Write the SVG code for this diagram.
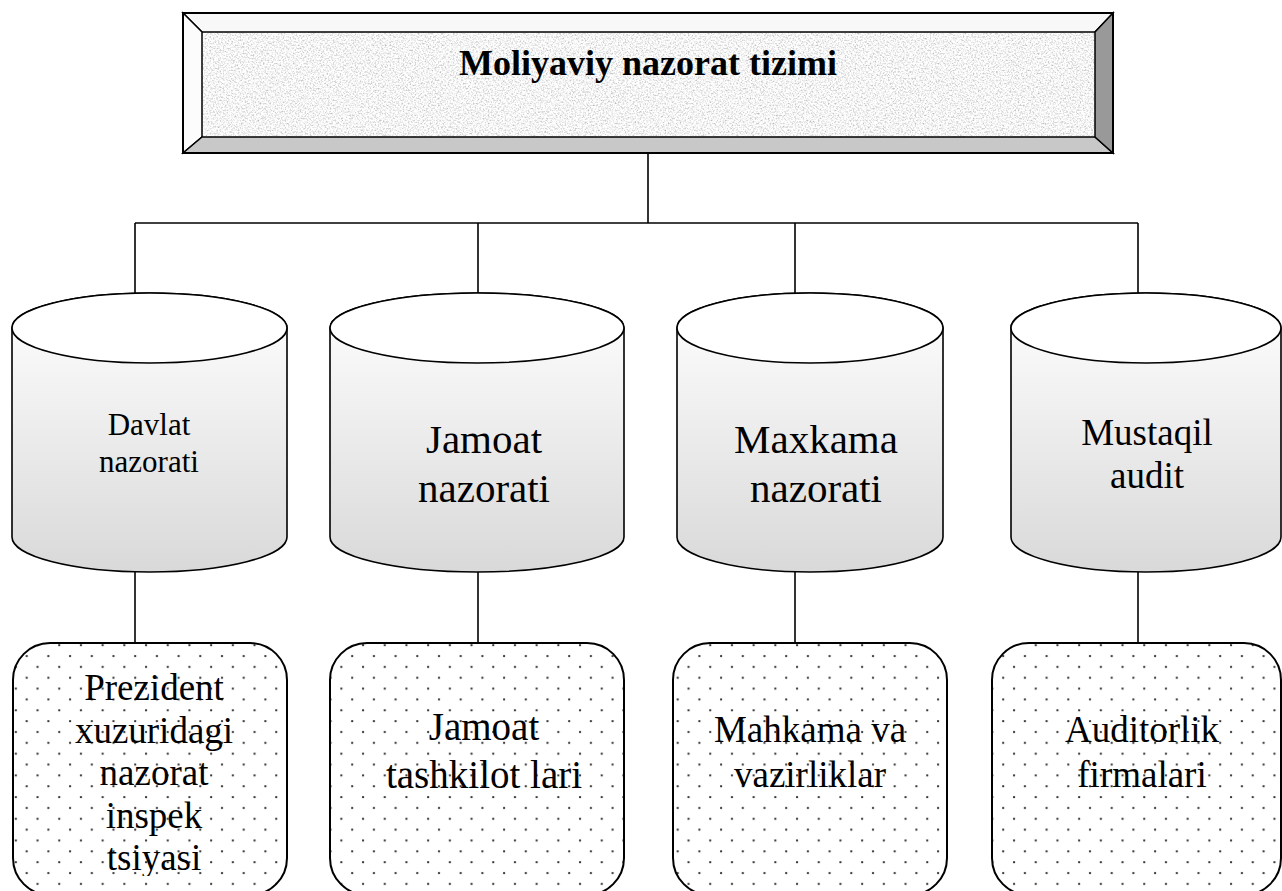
<svg xmlns="http://www.w3.org/2000/svg" width="1282" height="891" viewBox="0 0 1282 891">
<style>
.ol{stroke:#000;stroke-width:2;fill:none}
.cyl{stroke:#000;stroke-width:1.6;fill:url(#cylGrad)}
.cyltop{stroke:#000;stroke-width:1.6;fill:#fff}
.box{stroke:#000;stroke-width:2;fill:url(#dots)}
.conn line{stroke:#000;stroke-width:1.6}
text{font-family:"Liberation Serif","Times New Roman",serif;fill:#000;text-anchor:middle}
.title{font-weight:bold;font-size:36px}
</style>
<defs>
<linearGradient id="cylGrad" x1="0" y1="0" x2="0" y2="1">
<stop offset="0" stop-color="#ffffff"/>
<stop offset="1" stop-color="#d9d9d9"/>
</linearGradient>
<pattern id="dots" patternUnits="userSpaceOnUse" width="21.7" height="21.7">
<rect width="21.7" height="21.7" fill="#fff"/>
<circle cx="5" cy="5" r="1.15" fill="#333"/>
<circle cx="15.85" cy="15.85" r="1.15" fill="#333"/>
</pattern>
<filter id="granite" x="0" y="0" width="100%" height="100%">
<feTurbulence type="fractalNoise" baseFrequency="0.6" numOctaves="3" seed="7" result="n"/>
<feColorMatrix in="n" type="matrix" values="1.1 0 0 0 0.36  1.1 0 0 0 0.36  1.1 0 0 0 0.36  0 0 0 0 1" result="g"/>
<feComposite in="g" in2="SourceGraphic" operator="in"/>
</filter>
<clipPath id="clip1"><rect x="13" y="643" width="274" height="233"/></clipPath>
</defs>

<g id="connectors" class="conn">
<line x1="648" y1="153" x2="648" y2="223"/>
<line x1="135" y1="223" x2="1138" y2="223"/>
<line x1="135" y1="223" x2="135" y2="293"/>
<line x1="478" y1="223" x2="478" y2="293"/>
<line x1="795" y1="223" x2="795" y2="293"/>
<line x1="1138" y1="223" x2="1138" y2="293"/>
<line x1="135" y1="572" x2="135" y2="643"/>
<line x1="478" y1="572" x2="478" y2="643"/>
<line x1="795" y1="572" x2="795" y2="643"/>
<line x1="1138" y1="572" x2="1138" y2="643"/>
</g>

<g id="title">
<rect x="183" y="13" width="930" height="140" fill="#ececec"/>
<rect x="202" y="32" width="893" height="105" fill="#fff" filter="url(#granite)"/>
<polygon points="183,13 1113,13 1095,32 202,32" fill="#f8f8f8" stroke="#000" stroke-width="1.5"/>
<polygon points="183,13 202,32 202,137 183,153" fill="#fcfcfc" stroke="#000" stroke-width="1.5"/>
<polygon points="183,153 202,137 1095,137 1113,153" fill="#c8c8c8" stroke="#000" stroke-width="1.5"/>
<polygon points="1113,13 1095,32 1095,137 1113,153" fill="#999" stroke="#000" stroke-width="1.5"/>
<rect x="183" y="13" width="930" height="140" class="ol"/>
<text class="title" x="648" y="75">Moliyaviy nazorat tizimi</text>
</g>

<g id="cyl1">
<path class="cyl" d="M12,328 L12,537 A137.5,35 0 0 0 287,537 L287,328 A137.5,35 0 0 0 12,328 Z"/>
<ellipse class="cyltop" cx="149.5" cy="328" rx="137.5" ry="35"/>
<text x="149" y="435" font-size="31">Davlat</text>
<text x="149" y="472" font-size="31">nazorati</text>
</g>

<g id="cyl2">
<path class="cyl" d="M330,328 L330,537 A147,35 0 0 0 624,537 L624,328 A147,35 0 0 0 330,328 Z"/>
<ellipse class="cyltop" cx="477" cy="328" rx="147" ry="35"/>
<text x="484" y="453" font-size="41">Jamoat</text>
<text x="484" y="502" font-size="41">nazorati</text>
</g>

<g id="cyl3">
<path class="cyl" d="M677,328 L677,537 A133,35 0 0 0 943,537 L943,328 A133,35 0 0 0 677,328 Z"/>
<ellipse class="cyltop" cx="810" cy="328" rx="133" ry="35"/>
<text x="816" y="453" font-size="41">Maxkama</text>
<text x="816" y="502" font-size="41">nazorati</text>
</g>

<g id="cyl4">
<path class="cyl" d="M1011,328 L1011,537 A135,35 0 0 0 1281,537 L1281,328 A135,35 0 0 0 1011,328 Z"/>
<ellipse class="cyltop" cx="1146" cy="328" rx="135" ry="35"/>
<text x="1147" y="445" font-size="37">Mustaqil</text>
<text x="1147" y="488" font-size="37">audit</text>
</g>

<g id="box1">
<rect class="box" x="13" y="643" width="274" height="252" rx="37" ry="37"/>
<g clip-path="url(#clip1)" font-size="37">
<text x="154" y="700">Prezident</text>
<text x="154" y="742.5">xuzuridagi</text>
<text x="154" y="785">nazorat</text>
<text x="154" y="827.5">inspek</text>
<text x="154" y="870">tsiyasi</text>
</g>
</g>

<g id="box2">
<rect class="box" x="330" y="643" width="294" height="252" rx="37" ry="37"/>
<text x="484" y="740" font-size="39">Jamoat</text>
<text x="484" y="788" font-size="39">tashkilot lari</text>
</g>

<g id="box3">
<rect class="box" x="673" y="643" width="274" height="252" rx="37" ry="37"/>
<text x="810" y="742" font-size="37">Mahkama va</text>
<text x="810" y="787" font-size="37">vazirliklar</text>
</g>

<g id="box4">
<rect class="box" x="992" y="643" width="289" height="252" rx="37" ry="37"/>
<text x="1142" y="742" font-size="37">Auditorlik</text>
<text x="1142" y="787" font-size="37">firmalari</text>
</g>
</svg>
